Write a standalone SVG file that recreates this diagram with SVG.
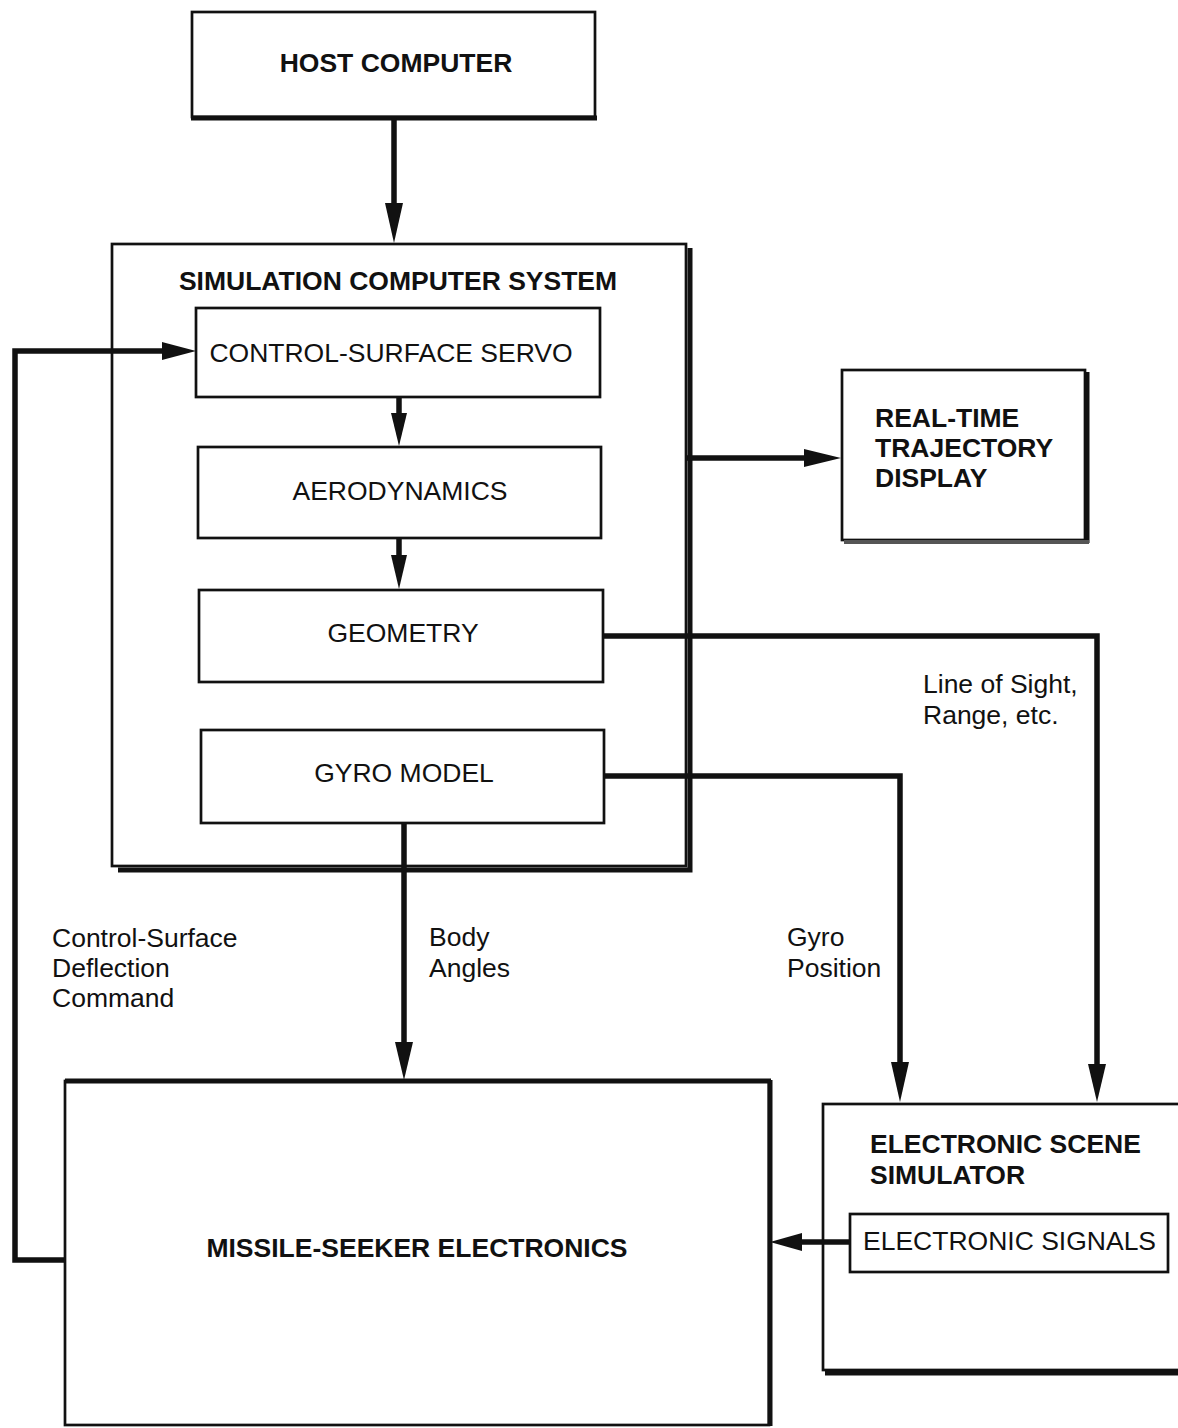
<svg xmlns="http://www.w3.org/2000/svg" width="1178" height="1428" viewBox="0 0 1178 1428">
  <style>
    .box { fill: #fff; stroke: #111; stroke-width: 2.7; }
    .shadow { fill: none; stroke: #111; stroke-width: 5; }
    .wire { fill: none; stroke: #111; stroke-width: 5.5; }
    .head { fill: #111; }
    .t { font-family: "Liberation Sans", Arial, Helvetica, sans-serif; font-size: 26.5px; fill: #111; }
    .b { font-weight: bold; }
    .mid { text-anchor: middle; }
  </style>
  <rect width="1178" height="1428" fill="#fff"/>

  <!-- Host computer -->
  <g id="host-computer">
    <rect class="box" x="192" y="12" width="403" height="105"/>
    <line class="shadow" x1="191" y1="118" x2="597" y2="118" stroke-width="4"/>
    <text class="t b mid" x="396" y="72">HOST COMPUTER</text>
  </g>

  <!-- Simulation computer system and its modules -->
  <g id="simulation-computer-system">
    <rect class="box" x="112" y="244" width="574" height="622"/>
    <polyline class="shadow" points="118,870 690,870 690,248" stroke-width="6"/>
    <text class="t b mid" x="398" y="290">SIMULATION COMPUTER SYSTEM</text>
  </g>
  <g id="control-surface-servo">
    <rect class="box" x="196" y="308" width="404" height="89"/>
    <text class="t mid" x="391" y="362">CONTROL-SURFACE SERVO</text>
  </g>
  <g id="aerodynamics">
    <rect class="box" x="198" y="447" width="403" height="91"/>
    <text class="t mid" x="400" y="500">AERODYNAMICS</text>
  </g>
  <g id="geometry">
    <rect class="box" x="199" y="590" width="404" height="92"/>
    <text class="t mid" x="403" y="642">GEOMETRY</text>
  </g>
  <g id="gyro-model">
    <rect class="box" x="201" y="730" width="403" height="93"/>
    <text class="t mid" x="404" y="782">GYRO MODEL</text>
  </g>

  <!-- Real-time trajectory display -->
  <g id="trajectory-display">
    <rect class="box" x="842" y="370" width="243" height="170"/>
    <line class="shadow" x1="1087" y1="372" x2="1087" y2="543" stroke-width="4"/>
    <line x1="844" y1="542" x2="1089" y2="542" stroke="#555" stroke-width="4"/>
    <text class="t b" x="875" y="427">REAL-TIME</text>
    <text class="t b" x="875" y="457">TRAJECTORY</text>
    <text class="t b" x="875" y="487">DISPLAY</text>
  </g>

  <!-- Missile-seeker electronics -->
  <g id="missile-seeker-electronics">
    <rect class="box" x="65" y="1081" width="704" height="344"/>
    <line class="shadow" x1="65" y1="1081" x2="771" y2="1081" stroke-width="3.5"/>
    <line class="shadow" x1="770" y1="1080" x2="770" y2="1426" stroke-width="5"/>
    <text class="t b mid" x="417" y="1257">MISSILE-SEEKER ELECTRONICS</text>
  </g>

  <!-- Electronic scene simulator -->
  <g id="electronic-scene-simulator">
    <rect class="box" x="823" y="1104" width="360" height="266"/>
    <line class="shadow" x1="825" y1="1373" x2="1180" y2="1373" stroke-width="5"/>
    <text class="t b" x="870" y="1153">ELECTRONIC SCENE</text>
    <text class="t b" x="870" y="1184">SIMULATOR</text>
  </g>
  <g id="electronic-signals">
    <rect class="box" x="850" y="1214" width="318" height="58"/>
    <text class="t" x="863" y="1250">ELECTRONIC SIGNALS</text>
  </g>

  <!-- Connectors -->
  <g id="connectors">
    <!-- host to simulation -->
    <line class="wire" x1="394" y1="118" x2="394" y2="205"/>
    <polygon class="head" points="385,203 403,203 394,243"/>
    <!-- servo to aerodynamics -->
    <line class="wire" x1="399" y1="397" x2="399" y2="415"/>
    <polygon class="head" points="391,413 407,413 399,446"/>
    <!-- aerodynamics to geometry -->
    <line class="wire" x1="399" y1="538" x2="399" y2="557"/>
    <polygon class="head" points="391,555 407,555 399,589"/>
    <!-- body angles -->
    <line class="wire" x1="404" y1="823" x2="404" y2="1044"/>
    <polygon class="head" points="395,1042 413,1042 404,1080"/>
    <!-- control-surface deflection command loop -->
    <polyline class="wire" points="65,1260 15,1260 15,351 164,351"/>
    <polygon class="head" points="162,342 162,360 196,351"/>
    <!-- to trajectory display -->
    <line class="wire" x1="686" y1="458" x2="806" y2="458"/>
    <polygon class="head" points="804,449 804,467 841,458"/>
    <!-- line of sight, range -->
    <polyline class="wire" points="603,636 1097,636 1097,1066"/>
    <polygon class="head" points="1088,1064 1106,1064 1097,1102"/>
    <!-- gyro position -->
    <polyline class="wire" points="604,776 900,776 900,1064"/>
    <polygon class="head" points="891,1062 909,1062 900,1102"/>
    <!-- electronic signals to missile-seeker -->
    <line class="wire" x1="850" y1="1242" x2="800" y2="1242"/>
    <polygon class="head" points="802,1233 802,1251 770,1242"/>
  </g>

  <!-- Connector labels -->
  <g id="labels">
    <text class="t" x="923" y="693">Line of Sight,</text>
    <text class="t" x="923" y="724">Range, etc.</text>
    <text class="t" x="787" y="946">Gyro</text>
    <text class="t" x="787" y="977">Position</text>
    <text class="t" x="429" y="946">Body</text>
    <text class="t" x="429" y="977">Angles</text>
    <text class="t" x="52" y="947">Control-Surface</text>
    <text class="t" x="52" y="977">Deflection</text>
    <text class="t" x="52" y="1007">Command</text>
  </g>
</svg>
